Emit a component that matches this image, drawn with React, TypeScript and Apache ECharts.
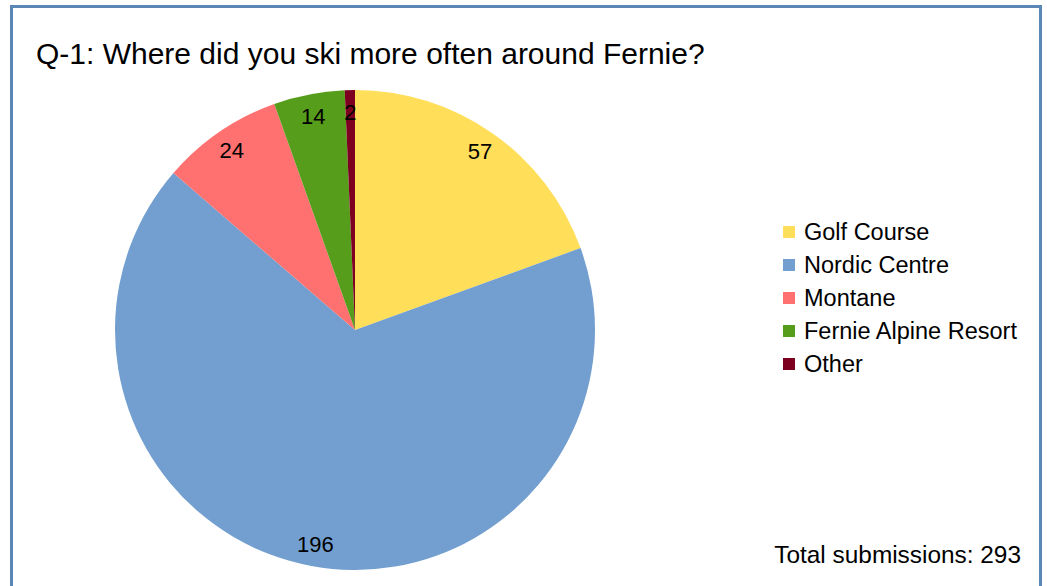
import React, { useEffect, useRef } from "react";
import * as echarts from "echarts";

const categories = ["Golf Course", "Nordic Centre", "Montane", "Fernie Alpine Resort", "Other"];
const values = [57, 196, 24, 14, 2];
const colors = ["#ffde59", "#729fcf", "#ff7171", "#579d1c", "#7e0021"];
const titleText = "Q-1: Where did you ski more often around Fernie?";
const totalText = "Total submissions: 293";

export default function App() {
  const ref = useRef<HTMLDivElement>(null);
  useEffect(() => {
    if (!ref.current) return;
    const chart = echarts.init(ref.current, undefined, { renderer: "svg" });
    const data = categories.map((c, i) => ({ name: c, value: values[i], itemStyle: { color: colors[i] } }));
    const font = "'Liberation Sans', Arial, sans-serif";
    chart.setOption({
      animation: false,
      backgroundColor: "#ffffff",
      textStyle: { fontFamily: font },
      title: {
        text: titleText,
        left: 36,
        top: 38,
        padding: 0,
        textStyle: { fontSize: 30, lineHeight: 30, fontWeight: "normal", color: "#000", fontFamily: font },
      },
      legend: {
        data: categories,
        orient: "vertical",
        left: 783,
        top: 220,
        padding: 0,
        icon: "rect",
        itemWidth: 12,
        itemHeight: 12,
        itemGap: 9,
        textStyle: { fontSize: 23.5, lineHeight: 24, color: "#000", fontFamily: font, padding: [0, 0, 0, 4] },
        selectedMode: false,
      },
      graphic: [
        {
          type: "rect",
          shape: { x: 11.5, y: 6.5, width: 1029, height: 600 },
          style: { fill: "none", stroke: "#5b87b7", lineWidth: 3 },
          silent: true,
          z: 100,
        },
        {
          type: "text",
          right: 26,
          top: 542,
          style: { text: totalText, fontSize: 24.4, fill: "#000", fontFamily: font },
        },
      ],
      series: [
        {
          type: "pie",
          center: [355, 330],
          radius: [0, 240],
          startAngle: 90,
          clockwise: true,
          data,
          label: { show: false },
          labelLine: { show: false },
          emphasis: { disabled: true },
          itemStyle: { borderWidth: 0 },
        },
        {
          type: "pie",
          center: [355, 330],
          radius: [190, 240],
          startAngle: 90,
          clockwise: true,
          data: categories.map((c, i) => ({ name: c, value: values[i] })),
          itemStyle: { color: "transparent", borderWidth: 0 },
          label: {
            show: true,
            position: "inside",
            formatter: "{c}",
            fontSize: 22,
            color: "#000",
            fontFamily: font,
          },
          labelLine: { show: false },
          silent: true,
          emphasis: { disabled: true },
        },
      ],
    });
    return () => chart.dispose();
  }, []);
  return (
    <div
      ref={ref}
      style={{ position: "fixed", left: 0, top: 0, width: 1047, height: 586 }}
    />
  );
}
